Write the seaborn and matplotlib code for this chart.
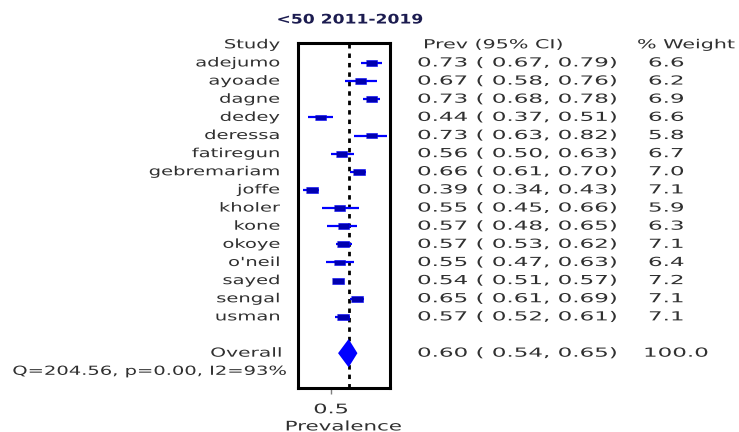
import matplotlib
matplotlib.use("Agg")
import matplotlib.pyplot as plt
import matplotlib.transforms as mtransforms
from matplotlib.patheffects import AbstractPathEffect
import seaborn as sns
import pandas as pd

# study level results
studies = ["adejumo", "ayoade", "dagne", "dedey", "deressa", "fatiregun",
           "gebremariam", "joffe", "kholer", "kone", "okoye", "o'neil",
           "sayed", "sengal", "usman"]
prev = [0.73, 0.67, 0.73, 0.44, 0.73, 0.56, 0.66, 0.39, 0.55, 0.57, 0.57,
        0.55, 0.54, 0.65, 0.57]
ci_low = [0.67, 0.58, 0.68, 0.37, 0.63, 0.50, 0.61, 0.34, 0.45, 0.48, 0.53,
          0.47, 0.51, 0.61, 0.52]
ci_high = [0.79, 0.76, 0.78, 0.51, 0.82, 0.63, 0.70, 0.43, 0.66, 0.65, 0.62,
           0.63, 0.57, 0.69, 0.61]
weight = [6.6, 6.2, 6.9, 6.6, 5.8, 6.7, 7.0, 7.1, 5.9, 6.3, 7.1, 6.4, 7.2,
          7.1, 7.1]

# pooled result
overall_prev = 0.60
overall_low = 0.54
overall_high = 0.65
overall_weight = 100.0
het_text = "Q=204.56, p=0.00, I2=93%"
title = "<50 2011-2019"


class Stretch(AbstractPathEffect):
    """Widen text horizontally (the original uses a very wide font)."""

    def __init__(self, sx, anchor="left"):
        super().__init__()
        self.sx = sx
        self.anchor = anchor

    def draw_path(self, renderer, gc, tpath, affine, rgbFace=None):
        bb = tpath.get_extents(affine)
        if self.anchor == "left":
            a = affine.get_matrix()[0, 2]
        elif self.anchor == "right":
            a = bb.x1
        else:
            a = 0.5 * (bb.x0 + bb.x1)
        t = affine + mtransforms.Affine2D().translate(-a, 0).scale(
            self.sx, 1).translate(a, 0)
        renderer.draw_path(gc, tpath, t, rgbFace)


df = pd.DataFrame({"study": studies, "prev": prev, "lo": ci_low,
                   "hi": ci_high, "weight": weight})
df["row"] = range(1, len(df) + 1)
overall_row = len(df) + 2
het_row = overall_row + 1

sns.set_style("white")
plt.rcParams["font.family"] = ["DejaVu Sans"]
txt_col = "#303030"
fs = 9
sx_word = 1.56   # names and labels
sx_num = 1.84    # numeric columns
sx_head = 1.65   # column headers

W, H = 739, 432
fig = plt.figure(figsize=(W / 100, H / 100), dpi=100)
ax = fig.add_axes([298 / W, 1 - 388 / H, 92 / W, 345 / H])

# reference line at pooled estimate
ax.axvline(overall_prev, color="black", lw=2, ls=(0, (1.6, 1.8)), zorder=1)

# confidence intervals
ax.hlines(df["row"], df["lo"], df["hi"], color="#0000ff", lw=1.6, zorder=2)

# weighted boxes
box = [(-1, -0.5), (1, -0.5), (1, 0.5), (-1, 0.5)]
sns.scatterplot(data=df, x="prev", y="row", size="weight", sizes=(58, 74),
                marker=box, color="#0000b0", edgecolor="#0000ff",
                linewidth=0.4, legend=False, ax=ax, zorder=3)

# pooled diamond
ax.fill([overall_low, overall_prev, overall_high, overall_prev],
        [overall_row, overall_row - 0.78, overall_row, overall_row + 0.78],
        color="#0000ff", zorder=3, lw=0)

ax.set_xlim(0.3125, 0.835)
ax.set_ylim(18.92, -0.1)
ax.set_yticks([])
ax.set_xticks([0.5])
ax.set_xticklabels(["0.5"], fontsize=fs + 0.5, color=txt_col)
ax.tick_params(axis="x", length=4, width=1, color="#808080", pad=7,
               bottom=True)
ax.set_xlabel("Prevalence", fontsize=fs + 0.5, color=txt_col, labelpad=3)
ax.set_ylabel("")
for lab in ax.get_xticklabels():
    lab.set_path_effects([Stretch(1.7, "center")])
ax.xaxis.label.set_path_effects([Stretch(1.62, "center")])
for sp in ax.spines.values():
    sp.set_visible(True)
    sp.set_color("black")
    sp.set_linewidth(2.2)

# text columns: x in figure coords, y in data rows
tr = mtransforms.blended_transform_factory(fig.transFigure, ax.transData)
kw = dict(transform=tr, fontsize=fs, color=txt_col, va="center")
word_r = [Stretch(sx_word, "right")]
num_l = [Stretch(sx_num, "left")]
head_l = [Stretch(sx_head, "left")]

ax.text(280 / W, 0, "Study", ha="right", path_effects=word_r, **kw)
ax.text(423 / W, 0, "Prev (95% CI)", ha="left", path_effects=head_l, **kw)
ax.text(637 / W, 0, "% Weight", ha="left", path_effects=head_l, **kw)

for _, r in df.iterrows():
    ax.text(280 / W, r["row"], r["study"], ha="right", path_effects=word_r,
            **kw)
    ax.text(417 / W, r["row"],
            f"{r['prev']:.2f} ( {r['lo']:.2f}, {r['hi']:.2f})",
            ha="left", path_effects=num_l, **kw)
    ax.text(648 / W, r["row"], f"{r['weight']:.1f}", ha="left",
            path_effects=num_l, **kw)

ax.text(282 / W, overall_row, "Overall", ha="right",
        path_effects=[Stretch(1.62, "right")], **kw)
ax.text(417 / W, overall_row,
        f"{overall_prev:.2f} ( {overall_low:.2f}, {overall_high:.2f})",
        ha="left", path_effects=num_l, **kw)
ax.text(643 / W, overall_row, f"{overall_weight:.1f}", ha="left",
        path_effects=num_l, **kw)
ax.text(287 / W, het_row, het_text, ha="right",
        path_effects=[Stretch(1.56, "right")], **kw)

fig.text(350 / W, 1 - 20 / H, title, ha="center", va="center",
         fontsize=9.5, fontweight="bold", color="#1c1c50",
         path_effects=[Stretch(1.3, "center")])

fig.savefig("out.png", dpi=100)
